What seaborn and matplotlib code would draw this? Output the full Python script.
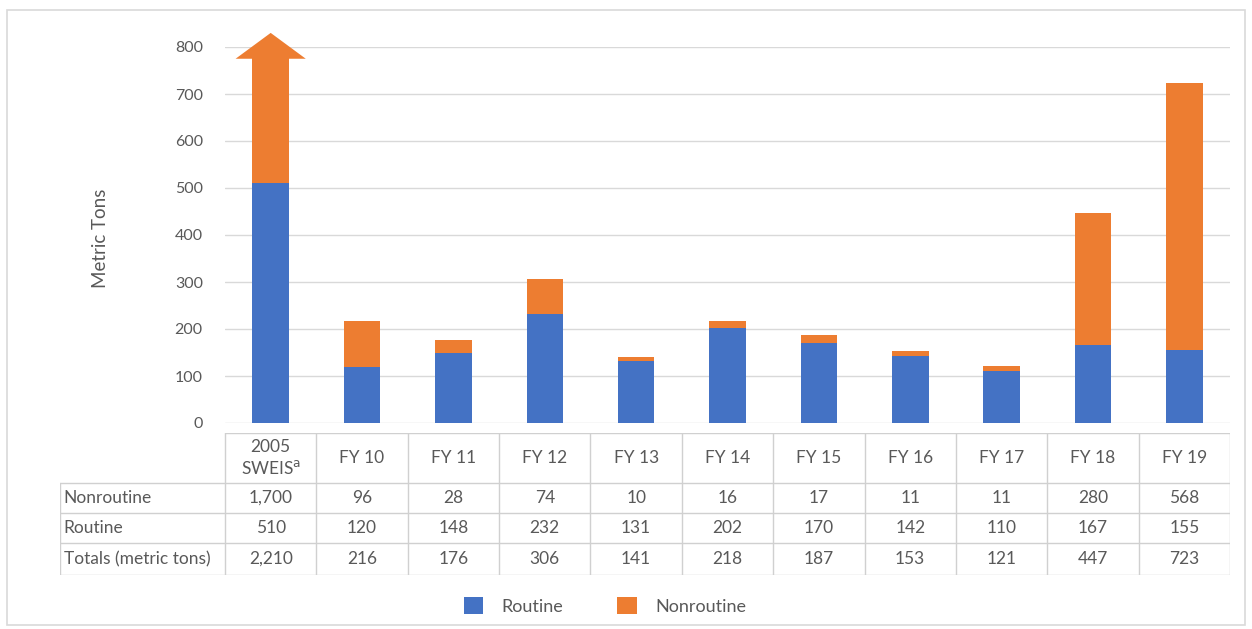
import matplotlib
matplotlib.use("Agg")
import matplotlib.pyplot as plt
import seaborn as sns
import numpy as np
import pandas as pd
from matplotlib.patches import Rectangle, Polygon

categories = ["2005\nSWEIS$^{\\mathrm{a}}$", "FY 10", "FY 11", "FY 12", "FY 13", "FY 14",
              "FY 15", "FY 16", "FY 17", "FY 18", "FY 19"]
routine = [510, 120, 148, 232, 131, 202, 170, 142, 110, 167, 155]
nonroutine = [1700, 96, 28, 74, 10, 16, 17, 11, 11, 280, 568]
totals = [2210, 216, 176, 306, 141, 218, 187, 153, 121, 447, 723]
row_labels = ["Nonroutine", "Routine", "Totals (metric tons)"]
y_ticks = [0, 100, 200, 300, 400, 500, 600, 700, 800]

BLUE = "#4472C4"
ORANGE = "#ED7D31"
TXT = "#595959"
GRID = "#d9d9d9"

sns.set_theme(style="white")
plt.rcParams["font.family"] = ["Lato", "DejaVu Sans"]

W, H = 1252, 629
fig = plt.figure(figsize=(W / 100, H / 100), dpi=100)

def px(x0, y0, x1, y1):
    return [x0 / W, 1 - y1 / H, (x1 - x0) / W, (y1 - y0) / H]

ax = fig.add_axes(px(225, 47, 1230, 423))
df = pd.DataFrame({"cat": categories, "routine": routine, "nonroutine": nonroutine})
sns.barplot(data=df, x="cat", y="routine", color=BLUE, width=0.4, errorbar=None,
            ax=ax, saturation=1, linewidth=0)
sns.barplot(data=df, x="cat", y="nonroutine", color=ORANGE, width=0.4, errorbar=None,
            ax=ax, saturation=1, bottom=routine, linewidth=0)
ax.set_ylim(0, 800)
ax.set_xlim(-0.5, len(categories) - 0.5)
ax.set_yticks(y_ticks)
ax.set_yticklabels([str(v) for v in y_ticks])
ax.yaxis.grid(True, color=GRID, lw=1)
ax.set_axisbelow(True)
for s in ax.spines.values():
    s.set_visible(False)
ax.set_xticks([])
ax.set_xlabel("")
ax.set_ylabel("")
ax.tick_params(axis="y", length=0, labelsize=11.5, labelcolor=TXT, pad=16)

# arrow head on the clipped first bar
bar0 = ax.containers[1][0]
bx, bw = bar0.get_x(), bar0.get_width()
cx = bx + bw / 2
head_half = bw * 0.96
tri = Polygon([[cx - head_half, 775], [cx + head_half, 775], [cx, 830]],
              closed=True, color=ORANGE, clip_on=False, zorder=3, lw=0)
ax.add_patch(tri)

fig.text(100 / W, 1 - 238 / H, "Metric Tons", rotation=90, ha="center", va="center",
         fontsize=13.5, color=TXT)

# table
tax = fig.add_axes(px(60, 433, 1230, 575))
unit = (1230 - 225) / len(categories)
lab_w = (225 - 60) / unit
tax.set_xlim(-0.5 - lab_w, len(categories) - 0.5)
tax.set_ylim(142, 0)
tax.axis("off")
rows_y = [0, 50, 80, 110, 142]
lc = "#d0d0d0"
n = len(categories)
tax.plot([-0.5, n - 0.5], [0, 0], color=lc, lw=1)
for yy in rows_y[1:]:
    tax.plot([-0.5 - lab_w, n - 0.5], [yy, yy], color=lc, lw=1)
for i in range(n + 1):
    tax.plot([i - 0.5, i - 0.5], [0, 142], color=lc, lw=1)
tax.plot([-0.5 - lab_w] * 2, [50, 142], color=lc, lw=1)
FS = 12.5
for i, c in enumerate(categories):
    tax.text(i, 25, c, ha="center", va="center", fontsize=FS, color=TXT,
             linespacing=1.25)
data_rows = [nonroutine, routine, totals]
for r, (lab, vals) in enumerate(zip(row_labels, data_rows)):
    yc = (rows_y[r + 1] + rows_y[r + 2]) / 2
    tax.text(-0.5 - lab_w + 0.04, yc, lab, ha="left", va="center", fontsize=FS, color=TXT)
    for i, v in enumerate(vals):
        tax.text(i, yc, f"{v:,}", ha="center", va="center", fontsize=FS, color=TXT)

# legend
handles = [Rectangle((0, 0), 1, 1, color=BLUE, lw=0), Rectangle((0, 0), 1, 1, color=ORANGE, lw=0)]
leg = fig.legend(handles, ["Routine", "Nonroutine"], loc="center",
                 bbox_to_anchor=(605 / W, 1 - 606 / H), ncol=2, frameon=False,
                 fontsize=13, handlelength=1.1, handleheight=1.1, columnspacing=3.0,
                 handletextpad=1.0)
for t in leg.get_texts():
    t.set_color(TXT)

# outer frame
fig.patches.append(Rectangle((7 / W, 1 - 625 / H), (1245 - 7) / W, (625 - 10) / H,
                             transform=fig.transFigure, fill=False,
                             edgecolor="#d9d9d9", lw=1.2))

fig.savefig("out.png", dpi=100, facecolor="white")
